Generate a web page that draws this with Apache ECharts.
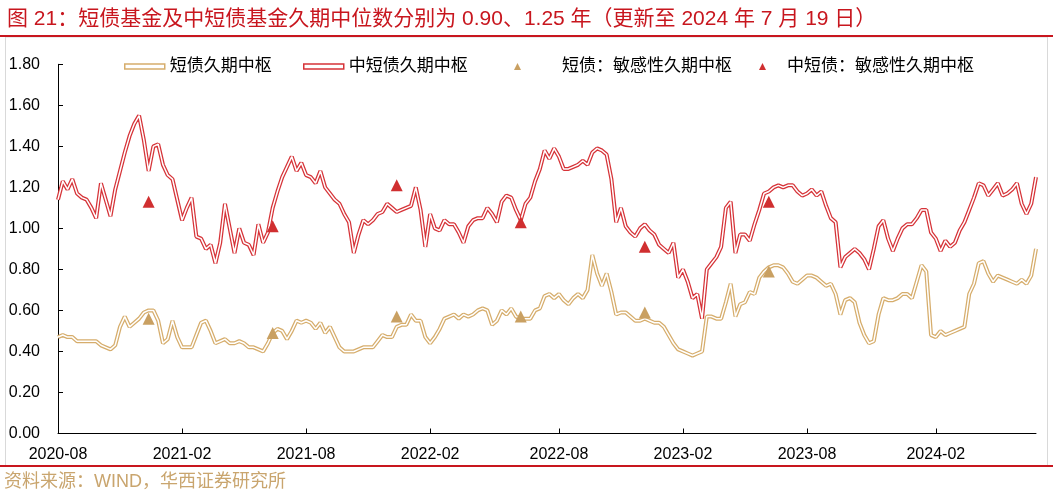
<!DOCTYPE html>
<html>
<head>
<meta charset="utf-8">
<title>短债基金及中短债基金久期中位数</title>
<script src="https://cdn.jsdelivr.net/npm/echarts@6/dist/echarts.min.js"></script>
<style>
  html, body { margin: 0; padding: 0; background: #fff; }
  #chart { width: 1053px; height: 496px; }
</style>
</head>
<body>
<div id="chart"></div>
<script>
// 周度日期（每周五），从 2020-08-21 到 2024-07-19
const startDate = '2020-08-21'
const weekCount = 206

// x 轴刻度所在的周与显示文字
const tickDates = ['2020-08-21', '2021-02-19', '2021-08-20', '2022-02-18', '2022-08-26', '2023-02-24', '2023-08-25', '2024-03-01']
const tickLabels = ['2020-08', '2021-02', '2021-08', '2022-02', '2022-08', '2023-02', '2023-08', '2024-02']

// 短债久期中枢
const shortDur = [
  0.47, 0.48, 0.47, 0.47, 0.45, 0.45, 0.45, 0.45, 0.45, 0.43,
  0.42, 0.41, 0.43, 0.52, 0.57, 0.52, 0.54, 0.56, 0.59, 0.60,
  0.60, 0.55, 0.44, 0.46, 0.55, 0.47, 0.42, 0.42, 0.42, 0.48,
  0.54, 0.55, 0.50, 0.44, 0.45, 0.46, 0.44, 0.44, 0.45, 0.44,
  0.42, 0.42, 0.41, 0.40, 0.44, 0.49, 0.51, 0.50, 0.46, 0.50,
  0.55, 0.54, 0.55, 0.54, 0.51, 0.54, 0.49, 0.52, 0.47, 0.42,
  0.40, 0.40, 0.40, 0.41, 0.42, 0.42, 0.42, 0.45, 0.48, 0.47,
  0.47, 0.52, 0.53, 0.53, 0.58, 0.55, 0.55, 0.47, 0.44, 0.47,
  0.51, 0.56, 0.57, 0.58, 0.56, 0.58, 0.57, 0.58, 0.60, 0.61,
  0.60, 0.53, 0.55, 0.60, 0.58, 0.61, 0.57, 0.56, 0.56, 0.56,
  0.60, 0.61, 0.67, 0.68, 0.66, 0.68, 0.65, 0.63, 0.66, 0.68,
  0.66, 0.70, 0.87, 0.78, 0.72, 0.78, 0.69, 0.58, 0.59, 0.59,
  0.57, 0.55, 0.55, 0.56, 0.55, 0.54, 0.54, 0.52, 0.48, 0.44,
  0.41, 0.40, 0.39, 0.38, 0.39, 0.40, 0.57, 0.57, 0.56, 0.56,
  0.64, 0.73, 0.57, 0.63, 0.64, 0.69, 0.68, 0.76, 0.79, 0.81,
  0.82, 0.82, 0.81, 0.78, 0.74, 0.73, 0.75, 0.77, 0.77, 0.76,
  0.74, 0.72, 0.73, 0.68, 0.58, 0.65, 0.66, 0.64, 0.54, 0.48,
  0.44, 0.45, 0.58, 0.66, 0.65, 0.65, 0.66, 0.68, 0.68, 0.66,
  0.74, 0.82, 0.79, 0.48, 0.47, 0.50, 0.48, 0.49, 0.50, 0.51,
  0.52, 0.68, 0.73, 0.83, 0.84, 0.78, 0.74, 0.77, 0.76, 0.75,
  0.74, 0.73, 0.75, 0.73, 0.77, 0.90
]

// 中短债久期中枢
const midShortDur = [
  1.14, 1.23, 1.19, 1.24, 1.17, 1.15, 1.14, 1.10, 1.05, 1.22,
  1.14, 1.06, 1.19, 1.28, 1.37, 1.45, 1.51, 1.55, 1.43, 1.28,
  1.40, 1.41, 1.31, 1.26, 1.24, 1.14, 1.04, 1.10, 1.15, 0.96,
  0.95, 0.90, 0.92, 0.83, 0.93, 1.12, 1.00, 0.88, 1.00, 0.93,
  0.92, 0.87, 1.02, 0.93, 0.98, 1.10, 1.18, 1.25, 1.30, 1.35,
  1.28, 1.32, 1.26, 1.25, 1.22, 1.28, 1.20, 1.17, 1.14, 1.12,
  1.07, 1.03, 0.88, 0.97, 1.04, 1.02, 1.04, 1.07, 1.08, 1.12,
  1.10, 1.08, 1.09, 1.10, 1.11, 1.20, 1.09, 0.91, 1.07, 1.00,
  0.99, 1.04, 1.02, 1.02, 0.98, 0.93, 1.01, 1.04, 1.05, 1.05,
  1.10, 1.07, 1.03, 1.13, 1.16, 1.15, 1.09, 1.04, 1.12, 1.15,
  1.23, 1.29, 1.38, 1.34, 1.39, 1.35, 1.29, 1.29, 1.30, 1.31,
  1.33, 1.31, 1.37, 1.39, 1.38, 1.36, 1.24, 1.03, 1.10, 1.01,
  0.98, 0.96, 1.00, 1.02, 0.99, 0.97, 0.92, 0.90, 0.88, 0.93,
  0.76, 0.80, 0.74, 0.66, 0.68, 0.56, 0.80, 0.83, 0.86, 0.91,
  1.10, 1.13, 0.88, 0.97, 0.97, 0.94, 1.02, 1.09, 1.17, 1.18,
  1.20, 1.21, 1.20, 1.21, 1.21, 1.18, 1.16, 1.17, 1.19, 1.16,
  1.18, 1.11, 1.05, 1.03, 0.81, 0.86, 0.88, 0.90, 0.88, 0.85,
  0.80, 0.90, 1.01, 1.04, 0.95, 0.89, 0.95, 1.00, 1.02, 1.02,
  1.05, 1.09, 1.09, 0.98, 0.95, 0.89, 0.94, 0.91, 0.93, 0.99,
  1.03, 1.09, 1.15, 1.22, 1.21, 1.16, 1.19, 1.22, 1.16, 1.17,
  1.19, 1.22, 1.12, 1.07, 1.12, 1.25
]

// 敏感性久期中枢（半年末）
const sensDates = ['2021-01-01', '2021-07-02', '2021-12-31', '2022-07-01', '2022-12-30', '2023-06-30']
const shortSens = [0.56, 0.49, 0.57, 0.57, 0.59, 0.79]
const midShortSens = [1.13, 1.01, 1.21, 1.03, 0.91, 1.13]

const TAN = '#d6ad6c'
const RED = '#d63338'
const FONT = "'Liberation Sans', 'Noto Sans CJK SC', sans-serif"

function fmt(d) {
  const m = String(d.getUTCMonth() + 1).padStart(2, '0')
  const day = String(d.getUTCDate()).padStart(2, '0')
  return d.getUTCFullYear() + '-' + m + '-' + day
}
const dates = []
const t0 = new Date(startDate + 'T00:00:00Z')
for (let i = 0; i < weekCount; i++) {
  dates.push(fmt(new Date(t0.getTime() + i * 7 * 86400000)))
}

const chart = echarts.init(document.getElementById('chart'))

const legendBase = {
  top: 58,
  padding: 0,
  selectedMode: false
}

const option = {
  animation: false,
  textStyle: { fontFamily: FONT },
  title: {
    text: '图 21：短债基金及中短债基金久期中位数分别为 0.90、1.25 年（更新至 2024 年 7 月 19 日）',
    left: 2,
    top: 4,
    textStyle: { fontSize: 21, fontWeight: 'normal', color: '#c8161e', fontFamily: FONT }
  },
  graphic: [
    { type: 'rect', shape: { x: 5.5, y: 37, width: 1042, height: 429 }, style: { fill: 'none', stroke: '#d9d9d9', lineWidth: 1 }, silent: true },
    { type: 'line', shape: { x1: 0, y1: 36, x2: 1053, y2: 36 }, style: { stroke: '#c8161e', lineWidth: 2 }, silent: true },
    { type: 'line', shape: { x1: 0, y1: 466, x2: 1053, y2: 466 }, style: { stroke: '#c8161e', lineWidth: 2 }, silent: true },
    { type: 'text', left: 4, top: 473, style: { text: '资料来源：WIND，华西证券研究所', fill: '#c9a56e', fontSize: 18, fontFamily: FONT }, silent: true }
  ],
  legend: [
    Object.assign({}, legendBase, {
      left: 124, itemWidth: 40, itemHeight: 5,
      textStyle: { fontSize: 17, color: '#000', fontFamily: FONT },
      data: [{ name: '短债久期中枢', icon: 'rect', itemStyle: { color: '#fff', borderColor: TAN, borderWidth: 1.5 } }]
    }),
    Object.assign({}, legendBase, {
      left: 303, itemWidth: 40, itemHeight: 5,
      textStyle: { fontSize: 17, color: '#000', fontFamily: FONT },
      data: [{ name: '中短债久期中枢', icon: 'rect', itemStyle: { color: '#fff', borderColor: RED, borderWidth: 1.5 } }]
    }),
    Object.assign({}, legendBase, {
      left: 514, itemWidth: 7, itemHeight: 7,
      textStyle: { fontSize: 17, color: '#000', fontFamily: FONT, padding: [0, 0, 0, 36] },
      data: [{ name: '短债：敏感性久期中枢' }]
    }),
    Object.assign({}, legendBase, {
      left: 759, itemWidth: 7, itemHeight: 7,
      textStyle: { fontSize: 17, color: '#000', fontFamily: FONT, padding: [0, 0, 0, 16] },
      data: [{ name: '中短债：敏感性久期中枢' }]
    })
  ],
  grid: { left: 58, right: 17, top: 64.3, bottom: 62.5, containLabel: false },
  xAxis: {
    type: 'category',
    data: dates,
    boundaryGap: false,
    axisLine: { lineStyle: { color: '#000', width: 1 } },
    axisTick: {
      inside: true, length: 5, lineStyle: { color: '#000' },
      interval: (idx, val) => tickDates.indexOf(val) >= 0
    },
    axisLabel: {
      interval: (idx, val) => tickDates.indexOf(val) >= 0,
      formatter: val => tickLabels[tickDates.indexOf(val)],
      fontSize: 16, color: '#000', margin: 13, fontFamily: FONT
    },
    splitLine: { show: false }
  },
  yAxis: {
    type: 'value',
    min: 0, max: 1.8, interval: 0.2,
    axisLine: { show: true, lineStyle: { color: '#000', width: 1 } },
    axisTick: { show: true, inside: true, length: 5, lineStyle: { color: '#000' } },
    axisLabel: { formatter: v => v.toFixed(2), fontSize: 16, color: '#000', margin: 18, fontFamily: FONT },
    splitLine: { show: false }
  },
  series: [
    { name: '短债久期中枢', type: 'line', data: shortDur, symbol: 'none', lineStyle: { color: TAN, width: 4 }, itemStyle: { color: TAN }, z: 2 },
    { name: '短债内线', type: 'line', data: shortDur, symbol: 'none', lineStyle: { color: '#fff', width: 1.5 }, silent: true, z: 3 },
    { name: '中短债久期中枢', type: 'line', data: midShortDur, symbol: 'none', lineStyle: { color: RED, width: 4 }, itemStyle: { color: RED }, z: 4 },
    { name: '中短债内线', type: 'line', data: midShortDur, symbol: 'none', lineStyle: { color: '#fff', width: 1.5 }, silent: true, z: 5 },
    {
      name: '短债：敏感性久期中枢', type: 'scatter', symbol: 'triangle', symbolSize: 12,
      data: sensDates.map((d, i) => [d, shortSens[i]]),
      itemStyle: { color: '#c9a062', opacity: 1 }, z: 6
    },
    {
      name: '中短债：敏感性久期中枢', type: 'scatter', symbol: 'triangle', symbolSize: 12,
      data: sensDates.map((d, i) => [d, midShortSens[i]]),
      itemStyle: { color: '#d02f30', opacity: 1 }, z: 6
    }
  ]
}

chart.setOption(option)
</script>
</body>
</html>
